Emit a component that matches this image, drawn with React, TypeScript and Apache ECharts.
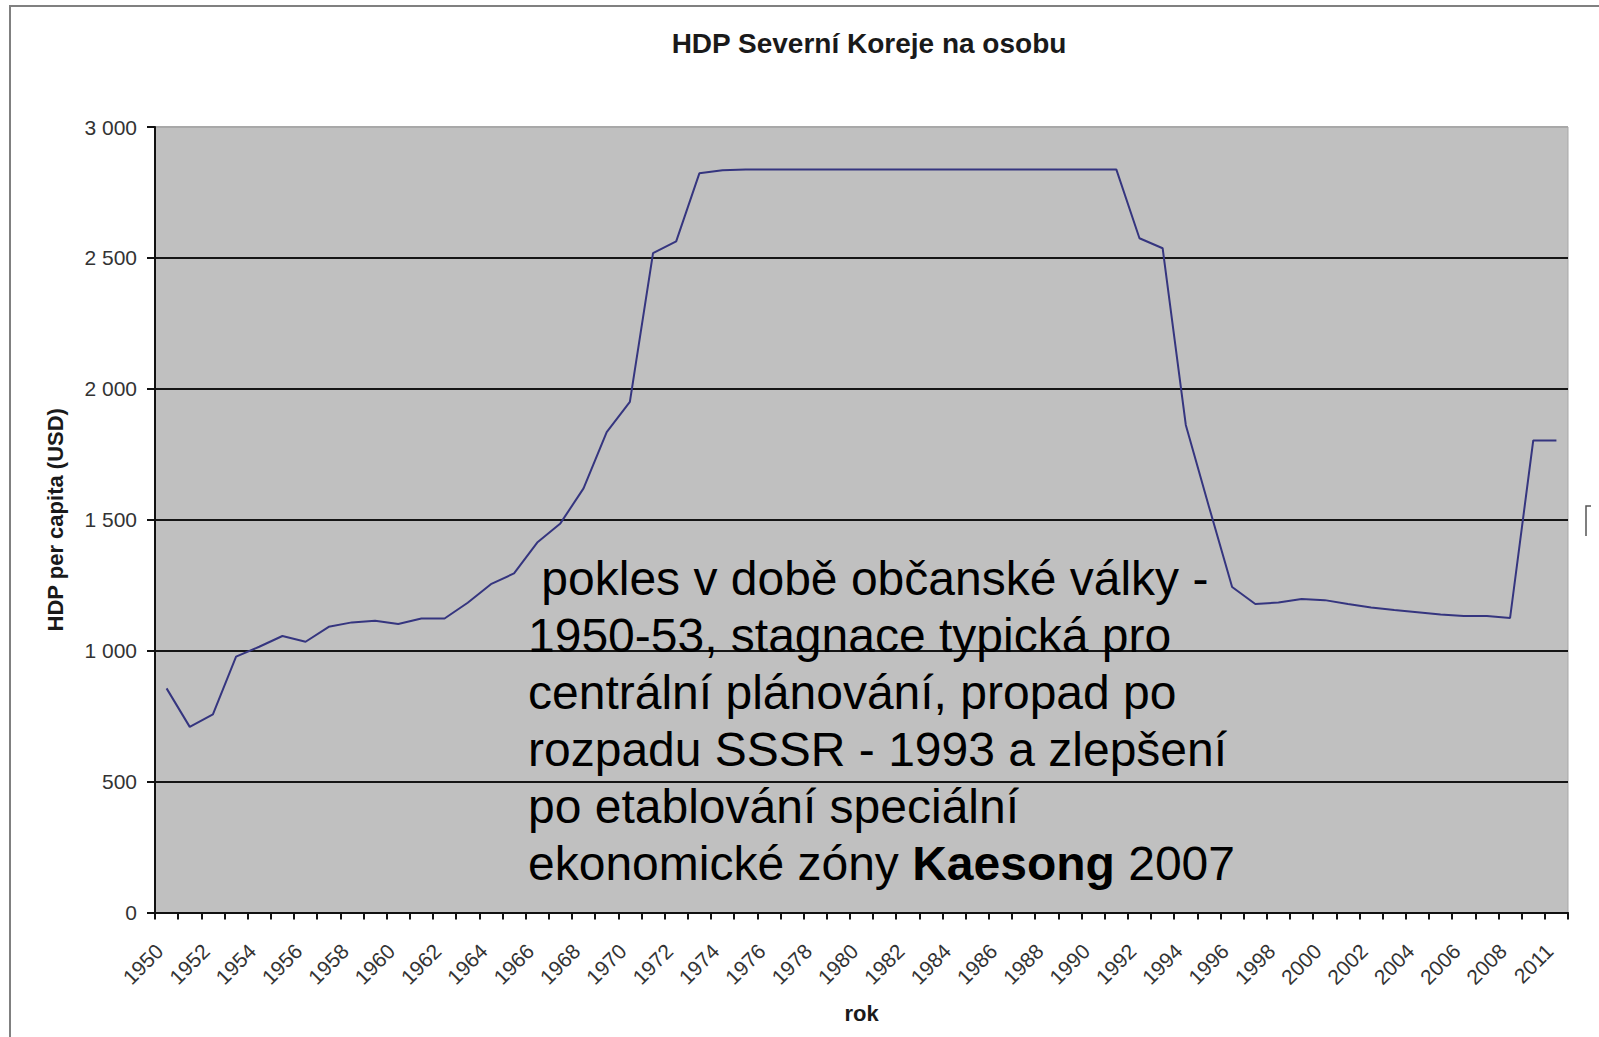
import React, { useEffect, useRef } from "react";
import * as echarts from "echarts";

const years: string[] = [
  "1950", "1951", "1952", "1953", "1954", "1955", "1956", "1957", "1958", "1959",
  "1960", "1961", "1962", "1963", "1964", "1965", "1966", "1967", "1968", "1969",
  "1970", "1971", "1972", "1973", "1974", "1975", "1976", "1977", "1978", "1979",
  "1980", "1981", "1982", "1983", "1984", "1985", "1986", "1987", "1988", "1989",
  "1990", "1991", "1992", "1993", "1994", "1995", "1996", "1997", "1998", "1999",
  "2000", "2001", "2002", "2003", "2004", "2005", "2006", "2007", "2008", "2010",
  "2011",
];

const gdpPerCapita: number[] = [
  856, 709, 757, 977, 1015, 1056, 1034, 1091, 1108, 1114,
  1102, 1123, 1123, 1183, 1254, 1295, 1413, 1486, 1620, 1835,
  1950, 2518, 2563, 2823, 2835, 2838, 2838, 2838, 2838, 2838,
  2838, 2838, 2838, 2838, 2838, 2838, 2838, 2838, 2838, 2838,
  2838, 2838, 2575, 2537, 1862, 1550, 1243, 1178, 1184, 1197,
  1193, 1178, 1165, 1155, 1147, 1138, 1132, 1132, 1125, 1803,
  1803,
];

const yTicks: number[] = [0, 500, 1000, 1500, 2000, 2500, 3000];

const titleText = "HDP Severní Koreje na osobu";
const yAxisTitle = "HDP per capita (USD)";
const xAxisTitle = "rok";
const noteLines: string[] = [
  " pokles v době občanské války -",
  "1950-53, stagnace typická pro",
  "centrální plánování, propad po",
  "rozpadu SSSR - 1993 a zlepšení",
  "po etablování speciální",
  "ekonomické zóny {b|Kaesong} 2007",
];

const FONT = "'Liberation Sans', Arial, sans-serif";

function fmt(v: number): string {
  if (v >= 1000) {
    const th = Math.floor(v / 1000);
    const rest = String(v % 1000).padStart(3, "0");
    return `${th} ${rest}`;
  }
  return String(v);
}

export default function App() {
  const ref = useRef<HTMLDivElement>(null);

  useEffect(() => {
    if (!ref.current) return;
    const chart = echarts.init(ref.current, undefined, { renderer: "svg" });
    const splitColors = yTicks.map((t, i) => (i === yTicks.length - 1 ? "#a8a8a8" : "#151515"));
    chart.setOption({
      animation: false,
      backgroundColor: "#ffffff",
      title: {
        text: titleText,
        left: 864,
        top: 24,
        textAlign: "center",
        textStyle: { fontFamily: FONT, fontWeight: "bold", fontSize: 28, color: "#1a1a1a" },
      },
      grid: {
        left: 155,
        right: 31,
        top: 127,
        bottom: 124.5,
        show: true,
        backgroundColor: "#c0c0c0",
        borderColor: "#a8a8a8",
        borderWidth: 1,
      },
      xAxis: {
        type: "category",
        data: years,
        boundaryGap: true,
        name: xAxisTitle,
        nameLocation: "middle",
        nameGap: 90,
        nameTextStyle: { fontFamily: FONT, fontWeight: "bold", fontSize: 22, color: "#1a1a1a" },
        axisLine: { show: true, lineStyle: { color: "#111", width: 2 } },
        axisTick: { show: true, interval: 0, length: 7, inside: false, lineStyle: { color: "#111", width: 2 } },
        axisLabel: {
          interval: 1,
          rotate: 45,
          margin: 28,
          padding: [0, 10, 0, 0],
          fontFamily: FONT,
          fontSize: 21,
          color: "#333",
        },
        splitLine: { show: false },
      },
      yAxis: {
        type: "value",
        min: 0,
        max: 3000,
        interval: 500,
        name: yAxisTitle,
        nameLocation: "middle",
        nameGap: 89,
        nameRotate: 90,
        nameTextStyle: { fontFamily: FONT, fontWeight: "bold", fontSize: 22, color: "#1a1a1a" },
        axisLine: { show: true, lineStyle: { color: "#111", width: 2 } },
        axisTick: { show: true, length: 8, inside: false, lineStyle: { color: "#111", width: 2 } },
        axisLabel: {
          margin: 18,
          fontFamily: FONT,
          fontSize: 21,
          color: "#333",
          formatter: (v: number) => fmt(v),
        },
        splitLine: { show: true, lineStyle: { color: splitColors, width: 2 } },
      },
      series: [
        {
          type: "line",
          data: gdpPerCapita,
          symbol: "none",
          lineStyle: { color: "#35357f", width: 2 },
          z: 3,
        },
      ],
      graphic: [
        {
          type: "rect",
          shape: { x: 10, y: 6, width: 1700, height: 1100 },
          style: { fill: "none", stroke: "#808080", lineWidth: 2 },
          silent: true,
          z: 100,
        },
        {
          type: "text",
          x: 528,
          y: 550,
          z: 50,
          style: {
            text: noteLines.join("\n"),
            font: `48px ${FONT}`,
            fill: "#000",
            lineHeight: 57,
            verticalAlign: "top",
            align: "left",
            rich: {
              b: { fontFamily: FONT, fontSize: 48, fontWeight: "bold", fill: "#000", lineHeight: 57 },
            },
          },
        },
        {
          type: "polyline",
          shape: { points: [[1591, 506], [1586, 506], [1586, 536]] },
          style: { stroke: "#555", lineWidth: 1.5, fill: "none" },
          z: 50,
        },
      ],
    });
    return () => chart.dispose();
  }, []);

  return (
    <div
      ref={ref}
      style={{ position: "fixed", left: 0, top: 0, width: 1599, height: 1037 }}
    />
  );
}
